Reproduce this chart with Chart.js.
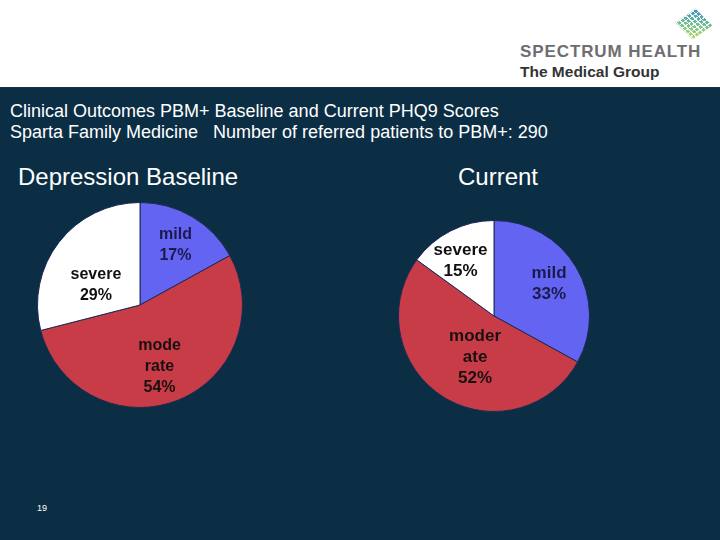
<!DOCTYPE html>
<html>
<head>
<meta charset="utf-8">
<script src="https://cdn.jsdelivr.net/npm/chart.js@4.4.0/dist/chart.umd.min.js"></script>
<style>
  body { margin: 0; width: 720px; height: 540px; background: #0b2e45; position: relative; overflow: hidden; font-family: "Liberation Sans", Arial, sans-serif; }
  #header { position: absolute; left: 0; top: 0; width: 720px; height: 87px; background: #fff; border-bottom: 1px solid #1c3040; }
  .logo1 { position: absolute; left: 520px; top: 42px; font-size: 17px; font-weight: bold; color: #6d6e71; letter-spacing: 0.9px; }
  .logo2 { position: absolute; left: 520px; top: 63px; font-size: 15.5px; font-weight: bold; color: #333; }
  .mesh { position: absolute; left: 682px; top: 12px; width: 24px; height: 24px; transform: rotate(45deg) skewX(-10deg);
          background: repeating-linear-gradient(0deg, rgba(255,255,255,0.9) 0 1px, transparent 1px 4px),
                      repeating-linear-gradient(90deg, rgba(255,255,255,0.9) 0 1px, transparent 1px 4px),
                      linear-gradient(135deg, #3a8fc4, #7cc58a 60%, #c9dd6e); }
  .title { position: absolute; left: 10px; color: #fff; font-size: 18px; white-space: pre; }
  .sub { position: absolute; color: #fff; font-size: 24px; }
  canvas { position: absolute; }
  .page { position: absolute; left: 37px; top: 503px; color: #fff; font-size: 9px; }
</style>
</head>
<body>
<div id="header">
  <div class="mesh"></div>
  <div class="logo1">SPECTRUM HEALTH</div>
  <div class="logo2">The Medical Group</div>
</div>
<div class="title" style="top:101px">Clinical Outcomes PBM+ Baseline and Current PHQ9 Scores</div>
<div class="title" style="top:122px">Sparta Family Medicine   Number of referred patients to PBM+: 290</div>
<div class="sub" style="left:18px; top:163px">Depression Baseline</div>
<div class="sub" style="left:458px; top:163px">Current</div>
<div class="page">19</div>

<canvas id="baseline" width="220" height="220" style="left:30px; top:195px"></canvas>
<canvas id="current" width="200" height="200" style="left:394px; top:216px"></canvas>

<script>
const categories = ["mild", "moderate", "severe"];
const baselineValues = [17, 54, 29];
const currentValues = [33, 52, 15];
const baselineLabels = [["mild", "17%"], ["mode", "rate", "54%"], ["severe", "29%"]];
const currentLabels = [["mild", "33%"], ["moder", "ate", "52%"], ["severe", "15%"]];
const sliceColors = ["#6464f2", "#c83c48", "#ffffff"];

// draws the multi-line labels inside each slice
const sliceLabels = {
  id: "sliceLabels",
  afterDatasetsDraw(chart, args, opts) {
    const ctx = chart.ctx;
    const meta = chart.getDatasetMeta(0);
    meta.data.forEach((arc, i) => {
      const p = arc.getProps(["x", "y", "startAngle", "endAngle", "outerRadius"], true);
      const mid = (p.startAngle + p.endAngle) / 2 + (opts.shift[i] || 0) * Math.PI / 180;
      const r = p.outerRadius * opts.radius[i];
      const cx = p.x + Math.cos(mid) * r;
      const cy = p.y + Math.sin(mid) * r;
      const lines = opts.lines[i];
      ctx.save();
      ctx.font = opts.font;
      ctx.fillStyle = opts.colors[i];
      ctx.textAlign = "center";
      ctx.textBaseline = "middle";
      const lh = opts.lineHeight;
      lines.forEach((t, k) => {
        ctx.fillText(t, cx, cy + (k - (lines.length - 1) / 2) * lh);
      });
      ctx.restore();
    });
  }
};

function makePie(id, values, lines, pad, radius, shift, font) {
  new Chart(document.getElementById(id), {
    type: "pie",
    data: {
      labels: categories,
      datasets: [{
        data: values,
        backgroundColor: sliceColors,
        borderColor: "#1e2a55",
        borderWidth: 1
      }]
    },
    options: {
      responsive: false,
      animation: false,
      layout: { padding: pad },
      plugins: {
        legend: { display: false },
        tooltip: { enabled: false },
        sliceLabels: {
          lines: lines,
          radius: radius,
          shift: shift,
          font: font,
          lineHeight: 21,
          colors: ["#1a1a4e", "#1a1010", "#111111"]
        }
      }
    },
    plugins: [sliceLabels]
  });
}

makePie("baseline", baselineValues, baselineLabels, 7, [0.68, 0.63, 0.47], [0, 4, -14], "bold 16px 'Liberation Sans', Arial, sans-serif");
makePie("current", currentValues, currentLabels, 4, [0.67, 0.48, 0.68], [0, -8, -4], "bold 17px 'Liberation Sans', Arial, sans-serif");
</script>
</body>
</html>
